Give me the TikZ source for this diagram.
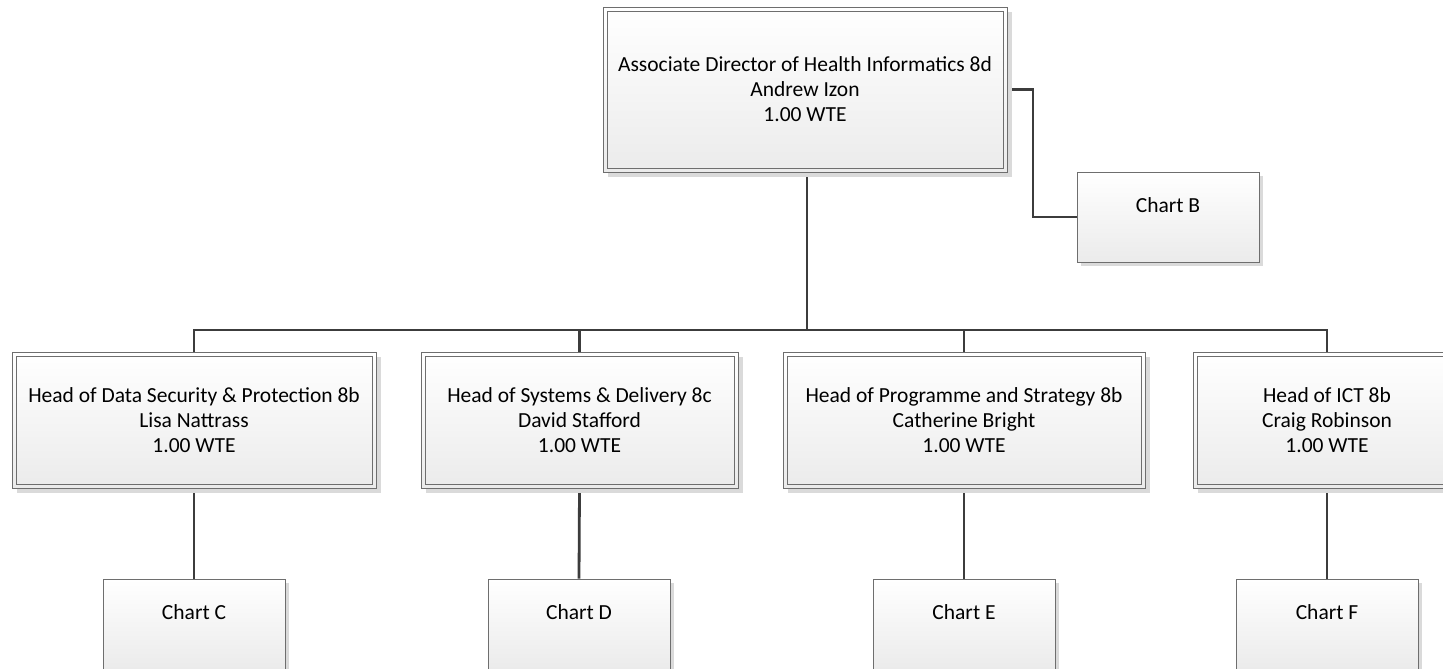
\documentclass[tikz,border=0pt]{standalone}
\usepackage{fontspec}
\setmainfont{Carlito}
\usetikzlibrary{shadows}
\pgfdeclarelayer{background}
\pgfsetlayers{background,main}
\definecolor{bordergray}{HTML}{6E6E6E}
\definecolor{conngray}{HTML}{3C3C3C}
\definecolor{shadowgray}{HTML}{DADADA}
\definecolor{fillbottom}{HTML}{EBEBEB}
\tikzset{
  boxbase/.style={rectangle, inner sep=0pt, align=center,
    top color=white, bottom color=fillbottom,
    draw=bordergray, line width=0.9pt,
    font=\fontsize{21.5}{25}\selectfont, text=black},
  headbox/.style={boxbase, minimum height=136pt,
    drop shadow={shadow xshift=5pt, shadow yshift=-5pt, fill=shadowgray, opacity=1}},
  innerframe/.style={draw=bordergray, line width=0.9pt},
  chartbox/.style={boxbase,
    minimum width=182pt, minimum height=90pt, text depth=24pt,
    drop shadow={shadow xshift=4pt, shadow yshift=-4pt, fill=shadowgray, opacity=1}},
  conn/.style={draw=conngray, line width=2.8pt}
}
\begin{document}
\begin{tikzpicture}[x=1pt, y=-1pt]
\useasboundingbox (0,0) rectangle (1443,669);
\clip (0,0) rectangle (1443,669);

\node[headbox, minimum width=404pt, minimum height=165pt] (top) at (805,89.5)
  {Associate Director of Health Informatics 8d\\Andrew Izon\\1.00 WTE};
\node[chartbox] (cB) at (1168,217) {Chart B};

\node[headbox, minimum width=364pt] (h1) at (194,420)
  {Head of Data Security \& Protection 8b\\Lisa Nattrass\\1.00 WTE};
\node[headbox, minimum width=317pt] (h2) at (579.5,420)
  {Head of Systems \& Delivery 8c\\David Stafford\\1.00 WTE};
\node[headbox, minimum width=362pt] (h3) at (964,420)
  {Head of Programme and Strategy 8b\\Catherine Bright\\1.00 WTE};
\node[headbox, minimum width=268pt] (h4) at (1327,420)
  {Head of ICT 8b\\Craig Robinson\\1.00 WTE};

\foreach \n in {top,h1,h2,h3,h4}
  \draw[innerframe] ([shift={(4.5,4.5)}]\n.north west) rectangle ([shift={(-4.5,-4.5)}]\n.south east);

\node[chartbox] (cC) at (194,624) {Chart C};
\node[chartbox] (cD) at (579,624) {Chart D};
\node[chartbox] (cE) at (964,624) {Chart E};
\node[chartbox] (cF) at (1327,624) {Chart F};

\coordinate (bus) at (807,330);
\coordinate (bj) at (1033,0);

\begin{pgfonlayer}{background}
\draw[conn] (top.south -| bus) -- (bus);
\draw[conn] (h1.north) |- (bus);
\draw[conn] (h2.north) |- (bus);
\draw[conn] (h3.north) |- (bus);
\draw[conn] (h4.north) |- (bus);
\draw[conn] (top.east) -- (top.east -| bj) |- (cB.west);
\draw[conn] (h1.south) -- (cC.north);
\draw[conn] (h2.south) -- (cD.north);
\draw[conn] (h3.south) -- (cE.north);
\draw[conn] (h4.south) -- (cF.north);
\end{pgfonlayer}
\end{tikzpicture}
\end{document}
